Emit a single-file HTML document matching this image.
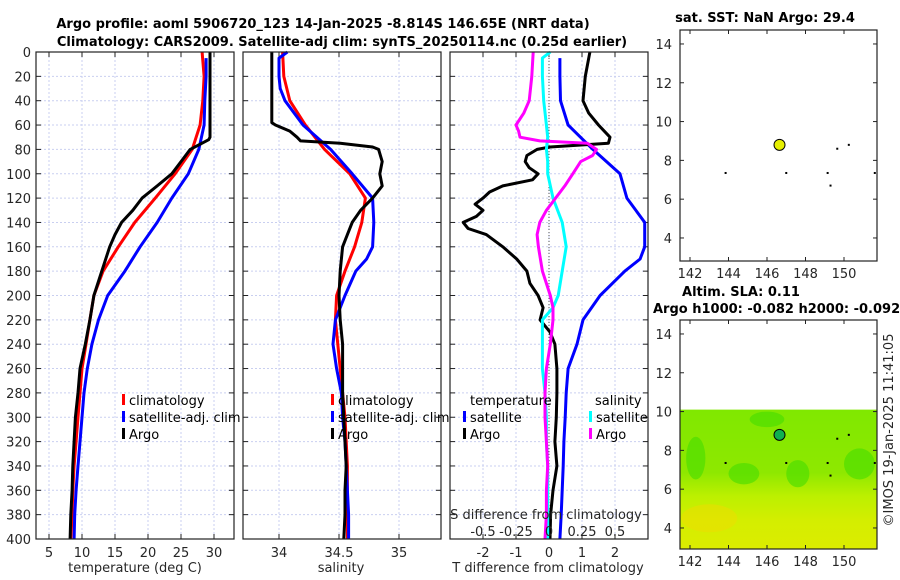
<!DOCTYPE html>
<html><head><meta charset="utf-8">
<style>
html,body{margin:0;padding:0;background:#fff;}
svg{display:block;font-family:"DejaVu Sans","Liberation Sans",sans-serif;}
.tk{font-size:13px;fill:#262626;}
.ttl{font-size:13px;font-weight:bold;fill:#000;}
.lg{font-size:13px;fill:#000;}
</style></head>
<body>
<svg id="fig" width="900" height="580" viewBox="0 0 900 580" xmlns="http://www.w3.org/2000/svg">
<text class="ttl" x="323" y="28" text-anchor="middle">Argo profile: aoml 5906720_123 14-Jan-2025 -8.814S 146.65E (NRT data)</text>
<text class="ttl" x="342" y="46" text-anchor="middle">Climatology: CARS2009. Satellite-adj clim: synTS_20250114.nc (0.25d earlier)</text>
<g id="layer"></g>
</svg>
<script>
// ---- data ----
const tDepth=[0,20,40,60,70,72,80,90,100,110,120,130,140,150,160,180,200,220,240,260,280,300,320,340,360,380,400];
const tArgo=[29.4,29.4,29.4,29.4,29.4,29.2,26.4,25.0,23.6,21.4,19.1,17.7,16.0,15.0,14.2,13.0,11.8,11.2,10.5,9.7,9.4,9.0,8.8,8.6,8.5,8.3,8.2];
const cDepth=[0,20,40,60,80,100,120,140,160,180,200,220,240,260,280,300,320,340,360,380,400];
const tClim=[28.2,28.5,28.3,27.9,26.7,24.1,21.1,18.0,15.5,13.2,11.8,11.2,10.6,10.0,9.7,9.4,9.1,8.8,8.6,8.5,8.3];
const sDepth=[5,20,40,60,80,100,120,140,160,180,200,220,240,260,280,300,320,340,360,380,400];
const tSat=[28.8,28.8,28.6,28.5,27.7,26.1,23.6,21.4,18.8,16.5,13.9,12.5,11.5,10.8,10.3,10.0,9.7,9.4,9.1,8.9,8.8];
const saDepth=[0,58,60,65,70,73,75,78,80,90,100,110,120,130,140,150,160,180,200,220,240,260,280,300,320,340,360,380,400];
const sArgo=[33.94,33.94,33.97,34.09,34.15,34.18,34.51,34.78,34.83,34.86,34.84,34.86,34.78,34.68,34.61,34.57,34.53,34.51,34.50,34.51,34.53,34.53,34.53,34.54,34.55,34.56,34.55,34.55,34.54];
const sClim=[34.03,34.04,34.09,34.22,34.38,34.59,34.72,34.69,34.63,34.55,34.48,34.47,34.49,34.51,34.53,34.55,34.56,34.57,34.57,34.57,34.57];
const ssDepth=[0,5,20,30,40,60,80,100,120,140,160,170,180,200,220,240,260,280,300,320,340,360,380,400];
const sSat=[34.07,34.0,34.0,34.01,34.05,34.2,34.43,34.61,34.78,34.79,34.78,34.73,34.64,34.55,34.47,34.45,34.48,34.52,34.53,34.55,34.56,34.57,34.58,34.58];
const dDepth=[0,20,40,50,60,70,75,78,80,85,90,95,100,105,110,115,120,125,130,135,140,145,150,160,170,180,190,200,210,220,230,240,260,280,300,320,340,360,380,400];
const dTArgo=[1.24,1.1,1.03,1.2,1.5,1.85,1.8,0.03,-0.36,-0.67,-0.72,-0.6,-0.33,-0.5,-1.4,-1.8,-2.0,-2.24,-2.0,-2.2,-2.6,-2.45,-1.9,-1.4,-0.98,-0.67,-0.58,-0.33,-0.18,-0.27,0.03,0.18,0.24,0.24,0.22,0.18,0.24,0.12,0.05,0.03];
const d2Depth=[5,20,40,60,80,100,120,140,160,170,180,200,220,240,260,280,300,320,340,360,380,400];
const dTSat=[0.33,0.33,0.35,0.58,1.33,2.15,2.36,2.9,2.9,2.76,2.3,1.55,1.03,0.85,0.58,0.52,0.49,0.45,0.43,0.40,0.37,0.33];
const d3Depth=[0,20,40,50,60,65,70,73,75,80,85,90,100,110,120,130,140,150,160,180,200,210,220,240,260,280,300,320,340,360,380,400];
const dSArgo=[-0.12,-0.13,-0.15,-0.19,-0.25,-0.23,-0.22,-0.07,0.29,0.36,0.33,0.24,0.18,0.12,0.05,-0.02,-0.07,-0.09,-0.08,-0.05,0.01,0.03,0.03,0.01,-0.02,-0.03,-0.03,-0.02,-0.01,-0.02,-0.02,-0.03];
const d4Depth=[0,5,20,40,60,70,80,90,100,120,140,160,180,200,210,220,240,260,280,300,320,340,360,380,400];
const dSSat=[0.01,-0.05,-0.05,-0.04,-0.02,-0.01,-0.02,-0.01,-0.01,0.03,0.1,0.13,0.1,0.07,0.03,-0.05,-0.05,-0.05,-0.03,-0.02,-0.02,-0.01,-0.01,-0.01,-0.01];
const depthTicks=[0,20,40,60,80,100,120,140,160,180,200,220,240,260,280,300,320,340,360,380,400];
const tempTicks=[5,10,15,20,25,30];
const salTicks=[34,34.5,35];
const dTTicks=[-2,-1,0,1,2];
const dSTicks=[-0.5,-0.25,0,0.25,0.5];
const dSTickLabels=["-0.5","-0.25","0","0.25","0.5"];
const lonTicks=[142,144,146,148,150];
const latTicks=[4,6,8,10,12,14];
const argoPos=[146.65,-8.8];
const otherLon=[143.85,147.0,149.15,149.3,149.65,150.25,151.6];
const otherLat=[7.35,7.35,7.35,6.7,8.6,8.8,7.35];

// ---- helpers ----
const NS="http://www.w3.org/2000/svg";
const layer=document.getElementById('layer');
function mk(tag,attrs,parent){const e=document.createElementNS(NS,tag);for(const k in attrs)e.setAttribute(k,attrs[k]);(parent||layer).appendChild(e);return e;}
function txt(s,x,y,cls,anchor,parent){const t=mk('text',{x:x,y:y,class:cls,'text-anchor':anchor||'start'},parent);t.textContent=s;return t;}
const Y0=52,Y1=539;
const yD=d=>Y0+(d/400)*(Y1-Y0);

function panel(x0,x1,xs,ticks,labels,name){
  const g=mk('g',{});
  
  
  ticks.forEach(v=>{mk('line',{x1:xs(v),x2:xs(v),y1:Y0,y2:Y1,stroke:'#c9cff0','stroke-width':1,'stroke-dasharray':'2,2'},g);});
  depthTicks.forEach(d=>{mk('line',{x1:x0,x2:x1,y1:yD(d),y2:yD(d),stroke:'#c9cff0','stroke-width':1,'stroke-dasharray':'2,2'},g);
    mk('line',{x1:x0,x2:x0+5,y1:yD(d),y2:yD(d),stroke:'#222'},g);
    mk('line',{x1:x1-5,x2:x1,y1:yD(d),y2:yD(d),stroke:'#222'},g);});
  ticks.forEach((v,i)=>{mk('line',{x1:xs(v),x2:xs(v),y1:Y1-5,y2:Y1,stroke:'#222'},g);mk('line',{x1:xs(v),x2:xs(v),y1:Y0,y2:Y0+5,stroke:'#222'},g);
    if(labels) txt(labels[i],xs(v),557,'tk','middle',g);});
  return g;
}
function frame(x0,x1,g){mk('rect',{x:x0,y:Y0,width:x1-x0,height:Y1-Y0,fill:'none',stroke:'#222','stroke-width':1.2},g);}
function line(depths,vals,xs,color,name,g,w){
  const pts=depths.map((d,i)=>xs(vals[i]).toFixed(1)+','+yD(d).toFixed(1)).join(' ');
  const p=mk('polyline',{points:pts,fill:'none',stroke:color,'stroke-width':w||3,'stroke-linejoin':'round'},g);
  
  
}
function legendEntry(x,y,color,label,g,name){
  const e=mk('g',{},g);
  
  
  if(color) mk('rect',{x:x-7,y:y-11,width:3,height:11,fill:color},e);
  txt(label,x,y,'lg','start',e);
}

// ---- panel 1 temperature ----
const xT=v=>49+(v-5)*6.6;
const g1=panel(36,234,xT,tempTicks,tempTicks.map(String),'temperature-panel');
depthTicks.forEach(d=>txt(String(d),31,yD(d)+5,'tk','end'));
line(cDepth,tClim,xT,'#ff0000','temperature-climatology-line',g1);
line(sDepth,tSat,xT,'#0000ff','temperature-satellite-line',g1);
line(tDepth,tArgo,xT,'#000000','temperature-argo-line',g1);
frame(36,234,g1);
legendEntry(129,405,'#ff0000','climatology',g1,'legend-climatology');
legendEntry(129,422,'#0000ff','satellite-adj. clim',g1,'legend-satellite-adj');
legendEntry(129,439,'#000000','Argo',g1,'legend-argo');
txt('temperature (deg C)',135,572,'tk','middle');

// ---- panel 2 salinity ----
const xS=v=>279+(v-34)*120;
const g2=panel(243,441,xS,salTicks,salTicks.map(String),'salinity-panel');
line(cDepth,sClim,xS,'#ff0000','salinity-climatology-line',g2);
line(ssDepth,sSat,xS,'#0000ff','salinity-satellite-line',g2);
line(saDepth,sArgo,xS,'#000000','salinity-argo-line',g2);
frame(243,441,g2);
legendEntry(338,405,'#ff0000','climatology',g2,'legend-sal-climatology');
legendEntry(338,422,'#0000ff','satellite-adj. clim',g2,'legend-sal-satellite-adj');
legendEntry(338,439,'#000000','Argo',g2,'legend-sal-argo');
txt('salinity',341,572,'tk','middle');

// ---- panel 3 differences ----
const xD=v=>549+v*33;
const xDS=v=>549+v*4*33;
const g3=panel(450,648,xD,dTTicks,dTTicks.map(String),'difference-panel');
mk('line',{x1:xD(0),x2:xD(0),y1:Y0,y2:Y1,stroke:'#555','stroke-width':1,'stroke-dasharray':'1,2'},g3);
line(d2Depth,dTSat,xD,'#0000ff','tdiff-satellite-line',g3);
line(dDepth,dTArgo,xD,'#000000','tdiff-argo-line',g3);
line(d4Depth,dSSat,xDS,'#00ffff','sdiff-satellite-line',g3);
line(d3Depth,dSArgo,xDS,'#ff00ff','sdiff-argo-line',g3);
frame(450,648,g3);
txt('temperature',470,405,'lg','start',g3);
legendEntry(470,422,'#0000ff','satellite',g3,'legend-t-satellite');
legendEntry(470,439,'#000000','Argo',g3,'legend-t-argo');
txt('salinity',595,405,'lg','start',g3);
legendEntry(596,422,'#00ffff','satellite',g3,'legend-s-satellite');
legendEntry(596,439,'#ff00ff','Argo',g3,'legend-s-argo');
txt('S difference from climatology',546,519,'tk','middle',g3);
dSTicks.forEach((v,i)=>txt(dSTickLabels[i],xDS(v),536,'tk','middle',g3));
txt('T difference from climatology',548,572,'tk','middle');

// ---- maps ----
const MX0=680,MX1=877;
const lonX=v=>690+(v-142)*19.25;
function mapPanel(top,bot,latTop,name,titleLines,dotColor,field){
  const g=mk('g',{});
  
  
  const pxPerDeg=19.4;
  const latY=v=>top+(latTop-v)*pxPerDeg;
  if(field){
    const ftop=latY(10.1);
    const defs=mk('defs',{},g);
    const lg=mk('linearGradient',{id:'sla',x1:0,y1:0,x2:0,y2:1},defs);
    [['0','#80e800'],['0.45','#8ee800'],['0.62','#bcf000'],['0.8','#d4ee00'],['1','#dcec00']].forEach(s=>mk('stop',{offset:s[0],'stop-color':s[1]},lg));
    mk('rect',{x:MX0,y:ftop,width:MX1-MX0,height:bot-ftop,fill:'url(#sla)'},g);
    [[142.3,7.6,0.5,1.1],[144.8,6.8,0.8,0.55],[147.6,6.8,0.6,0.7],[150.8,7.3,0.8,0.8],[146,9.6,0.9,0.4]].forEach(c=>mk('ellipse',{cx:lonX(c[0]),cy:latY(c[1]),rx:c[2]*19.25,ry:c[3]*19.4,fill:'#44dc00',opacity:0.6},g));
    mk('ellipse',{cx:lonX(143),cy:latY(4.5),rx:28,ry:14,fill:'#f0dc00',opacity:0.5},g);
  }
  latTicks.forEach(v=>{mk('line',{x1:MX0,x2:MX0+4,y1:latY(v),y2:latY(v),stroke:'#222'},g);mk('line',{x1:MX1-4,x2:MX1,y1:latY(v),y2:latY(v),stroke:'#222'},g);
    txt(String(v),672,latY(v)+5,'tk','end',g);});
  lonTicks.forEach(v=>{mk('line',{x1:lonX(v),x2:lonX(v),y1:top,y2:top+4,stroke:'#222'},g);mk('line',{x1:lonX(v),x2:lonX(v),y1:bot-4,y2:bot,stroke:'#222'},g);
    txt(String(v),lonX(v),bot+17,'tk','middle',g);});
  otherLon.forEach((v,i)=>mk('rect',{x:lonX(v)-1,y:latY(otherLat[i])-1,width:2,height:2,fill:'#000'},g));
  const c=mk('circle',{cx:lonX(argoPos[0]),cy:latY(-argoPos[1]),r:5.5,fill:dotColor,stroke:'#000','stroke-width':1},g);
  
  
  mk('rect',{x:MX0,y:top,width:MX1-MX0,height:bot-top,fill:'none',stroke:'#222','stroke-width':1.2},g);
  titleLines.forEach(t=>txt(t[0],t[1],t[2],'ttl',t[3],g));
}
mapPanel(30,261,14.72,'sst-map',[['sat. SST: NaN Argo: 29.4',765,22,'middle']],'#e6f000',false);
mapPanel(320,549,14.72,'sla-map',[['Altim. SLA: 0.11',741,296,'middle'],['Argo h1000: -0.082 h2000: -0.092',653,313,'start']],'#10b050',true);
const cr=txt('©IMOS 19-Jan-2025 11:41:05',0,0,'tk','middle');
cr.setAttribute('transform','translate(893,430) rotate(-90)');


</script>
</body></html>
